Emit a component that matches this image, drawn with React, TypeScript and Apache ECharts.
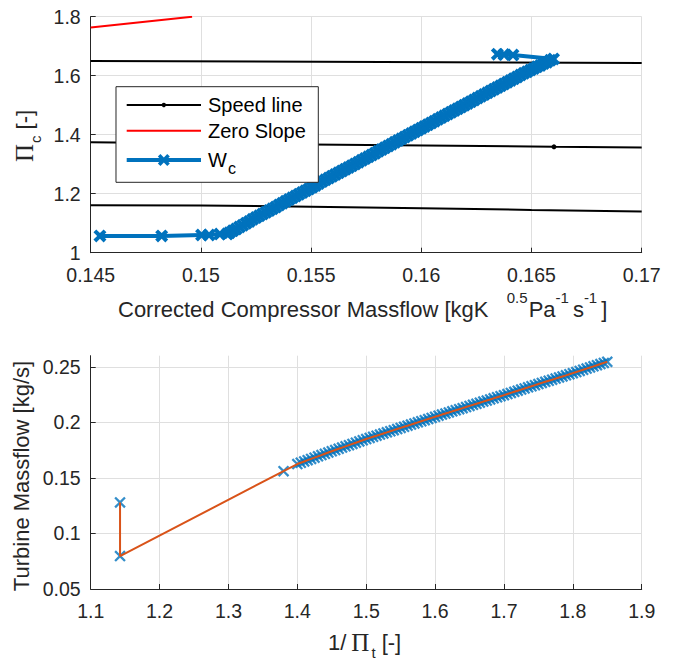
import React, { useEffect, useRef } from "react";
import * as echarts from "echarts";

// ---------- Top chart data ----------
const compXAxis = { min: 0.145, max: 0.17, interval: 0.005 };
const compYAxis = { min: 1, max: 1.8, interval: 0.2 };

const speed1X = [0.145, 0.17];
const speed1Y = [1.65, 1.643];
const speed2X = [0.145, 0.16602, 0.17];
const speed2Y = [1.374, 1.359, 1.357];
const speed2DotIndex = 1;
const speed3X = [0.145, 0.15, 0.155, 0.16, 0.165, 0.17];
const speed3Y = [1.161, 1.16, 1.156, 1.151, 1.145, 1.14];

const zeroSlopeX = [0.145, 0.1496];
const zeroSlopeY = [1.763, 1.8];

const wcX = [
  0.14542, 0.14822, 0.15003, 0.15037, 0.15086, 0.1512,
  0.1513, 0.15145, 0.1516, 0.15175, 0.1519, 0.15205, 0.1522, 0.15235, 0.1525, 0.15265,
  0.1528, 0.15295, 0.1531, 0.15325, 0.1534, 0.15355, 0.1537, 0.15385, 0.154, 0.15415,
  0.1543, 0.15445, 0.1546, 0.15475, 0.1549, 0.15505, 0.1552, 0.15535, 0.1555, 0.15565,
  0.1558, 0.15595, 0.1561, 0.15625, 0.1564, 0.15655, 0.1567, 0.15685, 0.157, 0.15715,
  0.1573, 0.15745, 0.1576, 0.15775, 0.1579, 0.15805, 0.1582, 0.15835, 0.1585, 0.15865,
  0.1588, 0.15895, 0.1591, 0.15925, 0.1594, 0.15955, 0.1597, 0.15985, 0.16, 0.16015,
  0.1603, 0.16045, 0.1606, 0.16075, 0.1609, 0.16105, 0.1612, 0.16135, 0.1615, 0.16165,
  0.1618, 0.16195, 0.1621, 0.16225, 0.1624, 0.16255, 0.1627, 0.16285, 0.163, 0.16315,
  0.1633, 0.16345, 0.1636, 0.16375, 0.1639, 0.16405, 0.1642, 0.16435, 0.1645, 0.16465,
  0.1648, 0.16495, 0.1651, 0.16525, 0.1654, 0.16555, 0.1657, 0.16585, 0.166,
  0.16416, 0.16375, 0.16345,
];
const wcY = [
  1.057, 1.057, 1.06, 1.06, 1.063, 1.063,
  1.068, 1.074, 1.08, 1.087, 1.093, 1.1, 1.106, 1.113, 1.119, 1.125,
  1.131, 1.137, 1.143, 1.149, 1.155, 1.162, 1.168, 1.174, 1.18, 1.186,
  1.192, 1.198, 1.204, 1.21, 1.216, 1.222, 1.228, 1.235, 1.241, 1.247,
  1.253, 1.259, 1.265, 1.271, 1.277, 1.283, 1.289, 1.295, 1.301, 1.307,
  1.313, 1.319, 1.325, 1.331, 1.337, 1.344, 1.35, 1.356, 1.362, 1.368,
  1.374, 1.38, 1.386, 1.392, 1.398, 1.404, 1.41, 1.416, 1.422, 1.428,
  1.434, 1.44, 1.446, 1.452, 1.458, 1.464, 1.47, 1.476, 1.482, 1.488,
  1.494, 1.5, 1.506, 1.512, 1.518, 1.524, 1.53, 1.536, 1.542, 1.548,
  1.554, 1.56, 1.566, 1.572, 1.578, 1.584, 1.59, 1.596, 1.602, 1.608,
  1.613, 1.619, 1.624, 1.63, 1.635, 1.641, 1.646, 1.652, 1.657,
  1.67, 1.672, 1.673,
];

// ---------- Bottom chart data ----------
const turbXAxis = { min: 1.1, max: 1.9, interval: 0.1 };
const turbYAxis = { min: 0.05, max: 0.26, interval: 0.05 };

const turbX = [
  1.1426, 1.1426, 1.38,
  1.4, 1.405, 1.41, 1.415, 1.42, 1.425, 1.43, 1.435, 1.44, 1.445,
  1.45, 1.455, 1.46, 1.465, 1.47, 1.475, 1.48, 1.485, 1.49, 1.495,
  1.5, 1.505, 1.51, 1.515, 1.52, 1.525, 1.53, 1.535, 1.54, 1.545,
  1.55, 1.555, 1.56, 1.565, 1.57, 1.575, 1.58, 1.585, 1.59, 1.595,
  1.6, 1.605, 1.61, 1.615, 1.62, 1.625, 1.63, 1.635, 1.64, 1.645,
  1.65, 1.655, 1.66, 1.665, 1.67, 1.675, 1.68, 1.685, 1.69, 1.695,
  1.7, 1.705, 1.71, 1.715, 1.72, 1.725, 1.73, 1.735, 1.74, 1.745,
  1.75, 1.755, 1.76, 1.765, 1.77, 1.775, 1.78, 1.785, 1.79, 1.795,
  1.8, 1.805, 1.81, 1.815, 1.82, 1.825, 1.83, 1.835, 1.84, 1.845,
  1.85,
];
const turbY = [
  0.1279, 0.0796, 0.1561,
  0.1625, 0.16365, 0.1648, 0.16595, 0.1671, 0.16825, 0.1694, 0.17055, 0.1717, 0.17285,
  0.174, 0.1751, 0.1762, 0.1773, 0.1784, 0.1795, 0.1806, 0.1817, 0.1828, 0.1839,
  0.185, 0.186, 0.187, 0.188, 0.189, 0.19, 0.191, 0.192, 0.193, 0.194,
  0.195, 0.196, 0.197, 0.198, 0.199, 0.2, 0.201, 0.202, 0.203, 0.204,
  0.205, 0.206, 0.207, 0.20795, 0.2089, 0.2099, 0.2109, 0.21185, 0.2128, 0.2138,
  0.2148, 0.21575, 0.2167, 0.2177, 0.2187, 0.21965, 0.2206, 0.2216, 0.2226, 0.22355,
  0.2245, 0.2255, 0.2265, 0.2275, 0.2285, 0.2295, 0.2305, 0.2315, 0.2325, 0.2335,
  0.2345, 0.2355, 0.2365, 0.23745, 0.2384, 0.2394, 0.2404, 0.24135, 0.2423, 0.2433,
  0.2443, 0.2453, 0.2463, 0.24735, 0.2484, 0.2494, 0.2504, 0.25145, 0.2525, 0.2535,
  0.2545,
];

const legendLabels = ["Speed line", "Zero Slope", "W"];
const legendSub = "c";

// ---------- styling ----------
const FONT = "'Liberation Sans', Arial, Helvetica, sans-serif";
const SERIF = "'Liberation Serif', 'DejaVu Serif', 'Times New Roman', serif";
const AX = "#262626";
const GRIDC = "#DFDFDF";
const BLUE = "#0072BD";
const ORANGE = "#D95319";

const X_BOLD =
  "path://M0,2.6L2.6,0L6,3.4L9.4,0L12,2.6L8.6,6L12,9.4L9.4,12L6,8.6L2.6,12L0,9.4L3.4,6Z";
const X_THIN =
  "path://M0,1.4L1.4,0L5,3.6L8.6,0L10,1.4L6.4,5L10,8.6L8.6,10L5,6.4L1.4,10L0,8.6L3.6,5Z";

const zip = (xs: number[], ys: number[]) => xs.map((x, i) => [x, ys[i]]);

function xPolygon(cx: number, cy: number, s: number, k: number) {
  const h = s / 2;
  const pts = [
    [0, k], [k, 0], [h, h - k], [s - k, 0], [s, k], [h + k, h],
    [s, s - k], [s - k, s], [h, h + k], [k, s], [0, s - k], [h - k, h],
  ];
  return pts.map(([x, y]) => [cx - h + x, cy - h + y]);
}

function axisBase(extra: any) {
  return {
    type: "value",
    axisLine: { show: true, onZero: false, lineStyle: { color: AX, width: 1 } },
    axisTick: { show: true, inside: true, length: 5, lineStyle: { color: AX, width: 1 } },
    splitLine: { show: true, lineStyle: { color: GRIDC, width: 1 } },
    ...extra,
  };
}

export default function App() {
  const ref = useRef<HTMLDivElement>(null);
  useEffect(() => {
    if (!ref.current) return;
    const chart = echarts.init(ref.current, undefined, { renderer: "svg" });

    const speed2Data: any[] = zip(speed2X, speed2Y).map((p, i) =>
      i === speed2DotIndex ? { value: p, symbol: "circle", symbolSize: 5 } : p
    );

    const legL = 116, legT = 86.7, legW = 202.3, legH = 95.6;
    const lx1 = 126.7, lx2 = 201, rowY = [105, 130.8, 160], tx = 208;

    const option: any = {
      animation: false,
      backgroundColor: "#ffffff",
      grid: [
        { left: 90.7, top: 16.7, width: 551, height: 236, containLabel: false },
        { left: 90.7, top: 355.7, width: 551, height: 233.3, containLabel: false },
      ],
      xAxis: [
        axisBase({
          gridIndex: 0, ...compXAxis,
          axisLabel: { color: AX, fontSize: 19.5, fontFamily: FONT, margin: 12 },
        }),
        axisBase({
          gridIndex: 1, ...turbXAxis,
          axisLabel: { color: AX, fontSize: 19.5, fontFamily: FONT, margin: 12 },
        }),
      ],
      yAxis: [
        axisBase({
          gridIndex: 0, ...compYAxis,
          axisLabel: { color: AX, fontSize: 19.5, fontFamily: FONT, margin: 10 },
        }),
        axisBase({
          gridIndex: 1, ...turbYAxis,
          axisLabel: { color: AX, fontSize: 19.5, fontFamily: FONT, margin: 10, showMaxLabel: false },
          splitLine: { show: true, showMaxLine: false, lineStyle: { color: GRIDC, width: 1 } },
        }),
      ],
      series: [
        {
          name: "Speed line", type: "line", xAxisIndex: 0, yAxisIndex: 0,
          data: zip(speed1X, speed1Y), symbol: "none",
          lineStyle: { color: "#000", width: 2 }, itemStyle: { color: "#000" }, z: 2,
        },
        {
          name: "Speed line", type: "line", xAxisIndex: 0, yAxisIndex: 0,
          data: speed2Data, symbol: "none",
          lineStyle: { color: "#000", width: 2 }, itemStyle: { color: "#000" }, z: 2,
        },
        {
          name: "Speed line", type: "line", xAxisIndex: 0, yAxisIndex: 0,
          data: zip(speed3X, speed3Y), symbol: "none",
          lineStyle: { color: "#000", width: 2 }, itemStyle: { color: "#000" }, z: 2,
        },
        {
          name: "Zero Slope", type: "line", xAxisIndex: 0, yAxisIndex: 0,
          data: zip(zeroSlopeX, zeroSlopeY), symbol: "none",
          lineStyle: { color: "#FF0000", width: 2 }, z: 2,
        },
        {
          name: "Wc", type: "line", xAxisIndex: 0, yAxisIndex: 0,
          data: zip(wcX, wcY), symbol: X_BOLD, symbolSize: 13, showAllSymbol: true,
          lineStyle: { color: BLUE, width: 4 }, itemStyle: { color: BLUE }, z: 3,
        },
        {
          name: "Turbine data", type: "scatter", xAxisIndex: 1, yAxisIndex: 1,
          data: zip(turbX, turbY), symbol: X_THIN, symbolSize: 11.5,
          itemStyle: { color: BLUE }, z: 2,
        },
        {
          name: "Turbine line", type: "line", xAxisIndex: 1, yAxisIndex: 1,
          data: zip(turbX, turbY), symbol: "none",
          lineStyle: { color: ORANGE, width: 2 }, z: 3,
        },
      ],
      graphic: [
        // top x-axis title
        {
          type: "text", x: 118, y: 309, z: 10,
          style: {
            text: "{m|Corrected Compressor Massflow [kgK}{m|   }{sup|0.5}{m|Pa}{supS|-1}{m|s}{supS|-1}{m|]}",
            align: "left", verticalAlign: "middle", fontFamily: FONT, fontSize: 22, fill: AX,
            rich: {
              m: { fontFamily: FONT, fontSize: 22, fill: AX },
              sup: { fontFamily: FONT, fontSize: 15, fill: AX, padding: [0, 1, 24, 0] },
              supS: { fontFamily: FONT, fontSize: 15, fill: AX, padding: [0, 4, 24, 0] },
            },
          },
        },
        // top y-axis title
        {
          type: "text", x: 24.5, y: 136, rotation: Math.PI / 2, z: 10,
          style: {
            text: "{pi|Π}{sub|c}{m| [-]}",
            align: "center", verticalAlign: "middle", fontFamily: FONT, fontSize: 22, fill: AX,
            rich: {
              pi: { fontFamily: SERIF, fontSize: 25, fill: AX },
              sub: { fontFamily: FONT, fontSize: 15, fill: AX, padding: [22, 0, 0, 1] },
              m: { fontFamily: FONT, fontSize: 22, fill: AX },
            },
          },
        },
        // bottom x-axis title
        {
          type: "text", x: 328, y: 642, z: 10,
          style: {
            text: "{m|1/}{pi|Π}{sub|t}{m| [-]}",
            align: "left", verticalAlign: "middle", fontFamily: FONT, fontSize: 22, fill: AX,
            rich: {
              m: { fontFamily: FONT, fontSize: 22, fill: AX },
              pi: { fontFamily: SERIF, fontSize: 25, fill: AX, padding: [0, 1, 0, 5] },
              sub: { fontFamily: FONT, fontSize: 15, fill: AX, padding: [20, 0, 0, 1] },
            },
          },
        },
        // bottom y-axis title
        {
          type: "text", x: 21, y: 476, rotation: Math.PI / 2, z: 10,
          style: {
            text: "Turbine Massflow [kg/s]",
            align: "center", verticalAlign: "middle", fontFamily: FONT, fontSize: 22, fill: AX,
          },
        },
        // legend
        {
          type: "group", z: 50,
          children: [
            {
              type: "rect", shape: { x: legL, y: legT, width: legW, height: legH }, z: 50,
              style: { fill: "#ffffff", stroke: AX, lineWidth: 1 },
            },
            {
              type: "line", z: 51, shape: { x1: lx1, y1: rowY[0], x2: lx2, y2: rowY[0] },
              style: { stroke: "#000", lineWidth: 2 },
            },
            {
              type: "circle", z: 52, shape: { cx: (lx1 + lx2) / 2, cy: rowY[0], r: 2.2 },
              style: { fill: "#000" },
            },
            {
              type: "line", z: 51, shape: { x1: lx1, y1: rowY[1], x2: lx2, y2: rowY[1] },
              style: { stroke: "#FF0000", lineWidth: 2 },
            },
            {
              type: "line", z: 51, shape: { x1: lx1, y1: rowY[2], x2: lx2, y2: rowY[2] },
              style: { stroke: BLUE, lineWidth: 4 },
            },
            {
              type: "polygon", z: 52,
              shape: { points: xPolygon((lx1 + lx2) / 2, rowY[2], 12, 2.6) },
              style: { fill: BLUE },
            },
            {
              type: "text", z: 52, x: tx, y: rowY[0],
              style: { text: legendLabels[0], align: "left", verticalAlign: "middle", fontFamily: FONT, fontSize: 20, fill: "#000" },
            },
            {
              type: "text", z: 52, x: tx, y: rowY[1],
              style: { text: legendLabels[1], align: "left", verticalAlign: "middle", fontFamily: FONT, fontSize: 20, fill: "#000" },
            },
            {
              type: "text", z: 52, x: tx, y: rowY[2],
              style: {
                text: `{m|${legendLabels[2]}}{sub|${legendSub}}`,
                align: "left", verticalAlign: "middle", fontFamily: FONT, fontSize: 20, fill: "#000",
                rich: {
                  m: { fontFamily: FONT, fontSize: 20, fill: "#000" },
                  sub: { fontFamily: FONT, fontSize: 16, fill: "#000", padding: [17, 0, 0, 1] },
                },
              },
            },
          ],
        },
      ],
    };
    chart.setOption(option);
    return () => chart.dispose();
  }, []);

  return (
    <div
      ref={ref}
      style={{ position: "fixed", left: 0, top: 0, width: 676, height: 659, background: "#fff" }}
    />
  );
}
